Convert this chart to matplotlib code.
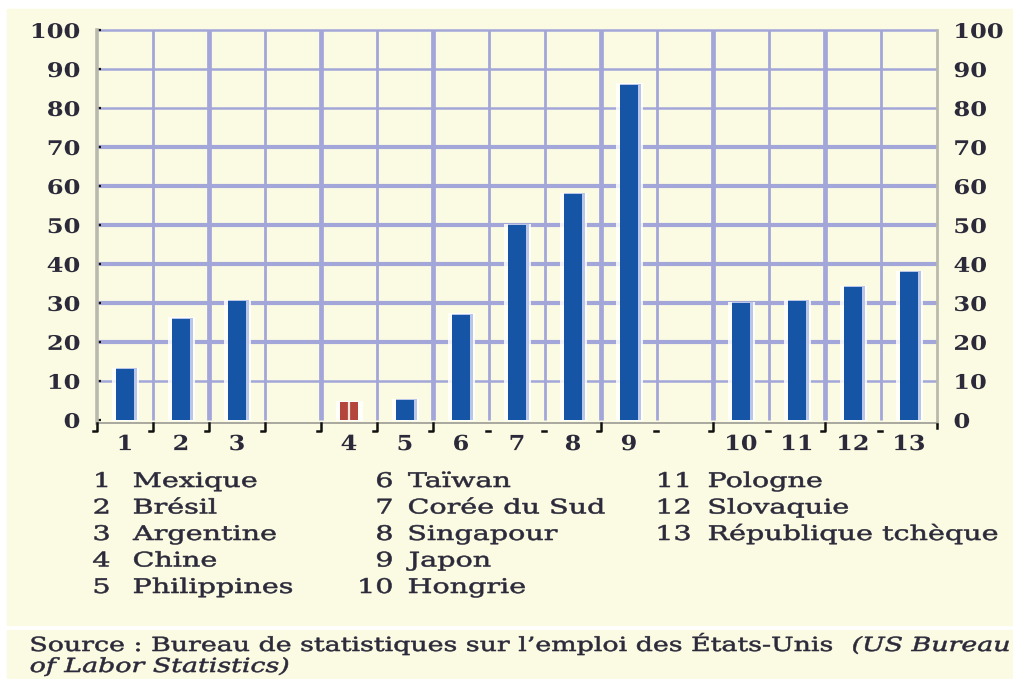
import matplotlib
matplotlib.use("Agg")
import matplotlib.pyplot as plt
from matplotlib.patheffects import AbstractPathEffect
from matplotlib.transforms import Affine2D, blended_transform_factory
from matplotlib.patches import Rectangle

# ---------------- data ----------------
labels = ["1", "2", "3", "4", "5", "6", "7", "8", "9", "10", "11", "12", "13"]
countries = ["Mexique", "Brésil", "Argentine", "Chine", "Philippines", "Taïwan",
             "Corée du Sud", "Singapour", "Japon", "Hongrie", "Pologne",
             "Slovaquie", "République tchèque"]
values = [13, 26, 30.5, 4.5, 5, 27, 50, 58, 86, 30, 30.5, 34, 38]
highlight = ["4"]                 # drawn in red
gap_after = ["3", "9"]            # empty slot after these bars
yticks = [0, 10, 20, 30, 40, 50, 60, 70, 80, 90, 100]
source_main = "Source : Bureau de statistiques sur l\u2019emploi des États-Unis"
source_ital1 = "(US Bureau"
source_ital2 = "of Labor Statistics)"

# ---------------- style ----------------
W, H = 1013, 679
CREAM = "#fbfbe3"
GRID = "#a2a6d8"
BLUE = "#1654a5"
RED = "#b4453c"
TXT = "#2c2a3a"
FONT = "DejaVu Serif"


class Stretch(AbstractPathEffect):
    """Horizontally stretch rendered text about an anchor (optional stroke)."""
    def __init__(self, sx, anchor="left", stroke=0.0):
        super().__init__()
        self.sx, self.anchor, self.stroke = sx, anchor, stroke

    def draw_path(self, renderer, gc, tpath, affine, rgbFace=None):
        ext = tpath.get_extents(affine)
        if self.anchor == "left":
            x0 = ext.x0
        elif self.anchor == "right":
            x0 = ext.x1
        else:
            x0 = 0.5 * (ext.x0 + ext.x1)
        aff = affine + Affine2D().translate(-x0, 0).scale(self.sx, 1).translate(x0, 0)
        if self.stroke > 0 and rgbFace is not None:
            gc0 = renderer.new_gc()
            gc0.copy_properties(gc)
            gc0.set_linewidth(self.stroke)
            gc0.set_foreground(rgbFace)
            renderer.draw_path(gc0, tpath, aff, rgbFace)
            gc0.restore()
        else:
            renderer.draw_path(gc, tpath, aff, rgbFace)


def fx(x):
    return x / W


def fy(y):
    return 1 - y / H


fig = plt.figure(figsize=(W / 100, H / 100), dpi=100)
fig.patch.set_facecolor("white")
fig.patches.append(Rectangle((fx(7), fy(625)), fx(W) - fx(7), fy(9) - fy(625),
                             transform=fig.transFigure, color=CREAM, zorder=-5))
fig.patches.append(Rectangle((fx(7), fy(H)), fx(W) - fx(7), fy(630) - fy(H),
                             transform=fig.transFigure, color=CREAM, zorder=-5))

# slot positions (with gaps)
pos = []
p = 0
for lab in labels:
    pos.append(p)
    p += 1
    if lab in gap_after:
        p += 1
nslots = p

ax = fig.add_axes([fx(97), fy(423), fx(937) - fx(97), fy(30) - fy(423)])
ax.set_facecolor(CREAM)
ax.set_xlim(-0.5, nslots - 0.5)
ax.set_ylim(-0.8, 100)

# grid lines
thick_h = [20, 30, 40, 50, 60, 70]
for v in yticks[1:]:
    ax.plot([-0.5, nslots - 0.5], [v, v], color=GRID,
            lw=3.0 if v in thick_h else 1.8, zorder=1, clip_on=False,
            solid_capstyle="butt")
thick_v = [2, 4, 6, 9, 11, 13]
for k in range(1, nslots):
    ax.plot([k - 0.5, k - 0.5], [0, 100], color=GRID,
            lw=3.4 if k in thick_v else 2.0, zorder=1, clip_on=False,
            solid_capstyle="butt")

# bars
bw = 0.31
for x, v, lab in zip(pos, values, labels):
    c = RED if lab in highlight else BLUE
    ax.bar(x + 0.01, v + 0.6, width=bw + 0.16, bottom=-0.3, color="white",
           alpha=0.85, zorder=2, linewidth=0)
    if c == BLUE:
        ax.bar(x + 0.03, v + 0.25, width=bw + 0.07, bottom=0, color="#b9c6ea",
               zorder=3, linewidth=0)
    ax.bar(x, v, width=bw, color=c, zorder=4, linewidth=0)
    if c == RED:
        ax.plot([x, x], [0, v], color="#f4e8e0", lw=1.6, zorder=5,
                solid_capstyle="butt")

# spines
ax.spines["top"].set_visible(False)
ax.spines["left"].set_color("#b9b9ae")
ax.spines["left"].set_linewidth(2.6)
ax.spines["right"].set_color("#b9b9ae")
ax.spines["right"].set_linewidth(2.0)
ax.spines["bottom"].set_color("#a8a8a0")
ax.spines["bottom"].set_linewidth(1.4)
ax.spines["left"].set_bounds(-0.8, 100)
ax.spines["right"].set_bounds(-0.8, 100)

# y ticks / labels both sides
ax.set_yticks(yticks)
ax.set_yticklabels([str(v) for v in yticks])
ax.tick_params(axis="y", left=True, right=False, labelleft=True,
               labelright=True, direction="in", length=3, width=1.6,
               color="#111111", pad=12)
for t in ax.yaxis.get_major_ticks():
    for lbl, anc in ((t.label1, "right"), (t.label2, "left")):
        lbl.set_fontfamily(FONT)
        lbl.set_fontweight("bold")
        lbl.set_fontsize(14.5)
        lbl.set_color(TXT)
        lbl.set_path_effects([Stretch(1.2, anc)])

# x ticks / labels
ax.set_xticks(pos)
ax.set_xticklabels(labels)
ax.tick_params(axis="x", length=0, pad=8)
for lbl in ax.get_xticklabels():
    lbl.set_fontfamily(FONT)
    lbl.set_fontweight("bold")
    lbl.set_fontsize(15)
    lbl.set_color(TXT)
    lbl.set_path_effects([Stretch(1.15, "center")])

# boundary tick marks
tr = blended_transform_factory(ax.transData, ax.transAxes)
j_type = [0, 1, 2, 3, 4, 5, 6, 9, 11, 13]
tick_h = 8 / 393
for k in range(0, nslots + 1):
    b = k - 0.5
    if k in j_type:
        ax.plot([b, b, b - 0.07], [0, -tick_h, -tick_h], color="#111111",
                lw=1.8, transform=tr, clip_on=False, zorder=6)
    elif k < nslots:
        ax.plot([b - 0.06, b + 0.02], [-tick_h, -tick_h], color="#111111",
                lw=1.8, transform=tr, clip_on=False, zorder=6)
    else:
        ax.plot([b, b], [-0.002, -tick_h * 0.6], color="#111111",
                lw=1.8, transform=tr, clip_on=False, zorder=6)

# legend (3 columns)
col_num_right = [110, 393, 691]
col_name_left = [133, 408, 708]
row_base = [487, 513.5, 540, 566.5, 593]
rows_per_col = [5, 5, 3]
idx = 0
LS = 1.42
for c, nrows in enumerate(rows_per_col):
    for r in range(nrows):
        lab, name = labels[idx], countries[idx]
        fig.text(fx(col_num_right[c]), fy(row_base[r]), lab, ha="right",
                 va="baseline", fontsize=14.5, family=FONT, color=TXT,
                 path_effects=[Stretch(LS, "right", 0.4)])
        fig.text(fx(col_name_left[c]), fy(row_base[r]), name, ha="left",
                 va="baseline", fontsize=14.5, family=FONT, color=TXT,
                 path_effects=[Stretch(LS, "left", 0.4)])
        idx += 1

# source
SS = 1.38
fig.text(fx(30), fy(651), source_main, ha="left", va="baseline", fontsize=14,
         family=FONT, color=TXT, path_effects=[Stretch(SS, "left", 0.4)])
fig.text(fx(852), fy(651), source_ital1, ha="left", va="baseline",
         fontsize=14, family=FONT, style="italic", color=TXT,
         path_effects=[Stretch(SS, "left", 0.4)])
fig.text(fx(30), fy(672), source_ital2, ha="left", va="baseline",
         fontsize=14, family=FONT, style="italic", color=TXT,
         path_effects=[Stretch(SS, "left", 0.4)])

fig.savefig("out.png", dpi=100, facecolor=fig.get_facecolor())
